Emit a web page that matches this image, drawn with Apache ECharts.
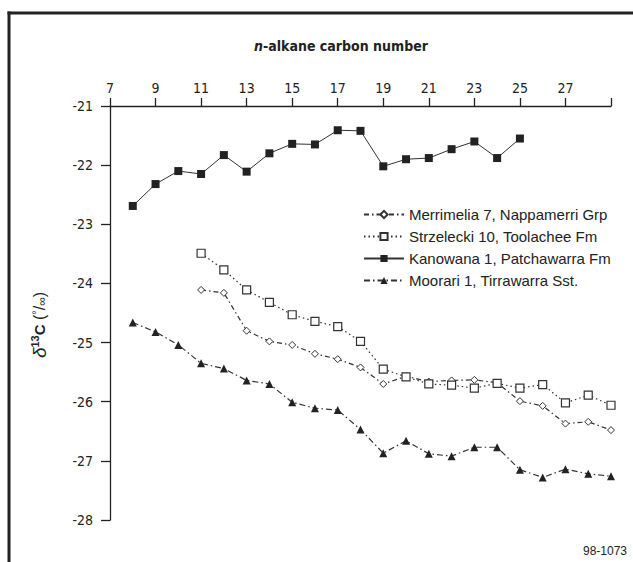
<!DOCTYPE html>
<html>
<head>
<meta charset="utf-8">
<script src="https://cdn.jsdelivr.net/npm/echarts@6/dist/echarts.min.js"></script>
<style>
  html, body { margin: 0; padding: 0; background: #fff; }
  #chart { width: 633px; height: 562px; }
</style>
</head>
<body>
<div id="chart"></div>
<script>
// n-alkane carbon numbers along the top axis (every other one labelled)
const carbonCategories = ['7','8','9','10','11','12','13','14','15','16','17','18',
  '19','20','21','22','23','24','25','26','27','28','29'];
const yTicks = [-28, -27, -26, -25, -24, -23, -22, -21];

// Merrimelia 7, Nappamerri Grp
const merrimeliaC = [11,12,13,14,15,16,17,18,19,20,21,22,23,24,25,26,27,28,29];
const merrimeliaD13C = [-24.11,-24.16,-24.80,-24.98,-25.04,-25.19,-25.28,-25.42,-25.70,-25.57,
  -25.66,-25.64,-25.63,-25.68,-25.99,-26.07,-26.37,-26.34,-26.48];

// Strzelecki 10, Toolachee Fm
const strzeleckiC = [11,12,13,14,15,16,17,18,19,20,21,22,23,24,25,26,27,28,29];
const strzeleckiD13C = [-23.49,-23.77,-24.11,-24.32,-24.53,-24.64,-24.73,-24.98,-25.45,-25.58,
  -25.70,-25.72,-25.77,-25.69,-25.77,-25.71,-26.02,-25.89,-26.06];

// Kanowana 1, Patchawarra Fm
const kanowanaC = [8,9,10,11,12,13,14,15,16,17,18,19,20,21,22,23,24,25];
const kanowanaD13C = [-22.69,-22.32,-22.10,-22.15,-21.83,-22.11,-21.80,-21.64,-21.65,-21.41,
  -21.42,-22.02,-21.90,-21.88,-21.73,-21.60,-21.88,-21.55];

// Moorari 1, Tirrawarra Sst.
const moorariC = [8,9,10,11,12,13,14,15,16,17,18,19,20,21,22,23,24,25,26,27,28,29];
const moorariD13C = [-24.66,-24.82,-25.04,-25.35,-25.44,-25.64,-25.70,-26.01,-26.11,-26.14,
  -26.47,-26.87,-26.66,-26.88,-26.92,-26.77,-26.77,-27.15,-27.28,-27.14,-27.22,-27.26];

const seriesNames = [
  'Merrimelia 7, Nappamerri Grp',
  'Strzelecki 10, Toolachee Fm',
  'Kanowana 1, Patchawarra Fm',
  'Moorari 1, Tirrawarra Sst.'
];

const INK = '#222';
const narrow = "'Liberation Sans Narrow', 'DejaVu Sans Condensed', 'Liberation Sans', sans-serif";
const regular = "'Liberation Sans', Arial, sans-serif";

function pairs(cs, vs) {
  return cs.map((c, i) => [String(c), vs[i]]);
}

const chart = echarts.init(document.getElementById('chart'), null, { renderer: 'svg' });

chart.setOption({
  animation: false,
  backgroundColor: '#fff',
  grid: { left: 110, top: 106, right: 22, bottom: 42, containLabel: false },
  xAxis: {
    type: 'category',
    position: 'top',
    data: carbonCategories,
    boundaryGap: false,
    axisLine: { show: true, onZero: false, lineStyle: { color: INK, width: 1.3 } },
    axisTick: { show: true, interval: 1, length: 8, lineStyle: { color: INK, width: 1.3 } },
    axisLabel: {
      interval: 1, margin: 11, fontSize: 14, color: INK, fontFamily: narrow,
      formatter: v => (v === '29' ? '' : v)
    },
    splitLine: { show: false }
  },
  yAxis: {
    type: 'value',
    min: yTicks[0],
    max: yTicks[yTicks.length - 1],
    interval: 1,
    axisLine: { show: true, onZero: false, lineStyle: { color: INK, width: 1.3 } },
    axisTick: { show: true, length: 9, lineStyle: { color: INK, width: 1.3 } },
    axisLabel: { margin: 17, fontSize: 14, color: INK, fontFamily: narrow },
    splitLine: { show: false }
  },
  legend: {
    orient: 'vertical',
    left: 358,
    top: 202,
    itemWidth: 40,
    itemHeight: 9,
    itemGap: 7,
    data: seriesNames,
    textStyle: { fontSize: 15, color: INK, fontFamily: regular }
  },
  series: [
    {
      name: seriesNames[0],
      type: 'line',
      data: pairs(merrimeliaC, merrimeliaD13C),
      symbol: 'diamond',
      symbolSize: [7, 7],
      showAllSymbol: true,
      lineStyle: { color: '#333', width: 1.2, type: [5, 3, 1.5, 3] },
      itemStyle: { color: '#fff', borderColor: '#333', borderWidth: 1 },
      z: 3
    },
    {
      name: seriesNames[1],
      type: 'line',
      data: pairs(strzeleckiC, strzeleckiD13C),
      symbol: 'rect',
      symbolSize: 8,
      showAllSymbol: true,
      lineStyle: { color: '#333', width: 1.2, type: [1.5, 3] },
      itemStyle: { color: '#fff', borderColor: '#333', borderWidth: 1.2 },
      z: 4
    },
    {
      name: seriesNames[2],
      type: 'line',
      data: pairs(kanowanaC, kanowanaD13C),
      symbol: 'rect',
      symbolSize: 8,
      showAllSymbol: true,
      lineStyle: { color: '#333', width: 1 },
      itemStyle: { color: INK, borderColor: INK, borderWidth: 0 },
      z: 5
    },
    {
      name: seriesNames[3],
      type: 'line',
      data: pairs(moorariC, moorariD13C),
      symbol: 'triangle',
      symbolSize: 8,
      showAllSymbol: true,
      lineStyle: { color: '#333', width: 1.2, type: [6, 3, 1.5, 3] },
      itemStyle: { color: INK, borderColor: INK, borderWidth: 0 },
      z: 5
    }
  ],
  graphic: [
    // frame along the left and top edges
    { type: 'line', shape: { x1: 9, y1: 11.5, x2: 9, y2: 562 }, style: { stroke: INK, lineWidth: 3 } },
    { type: 'line', shape: { x1: 7.5, y1: 13, x2: 633, y2: 13 }, style: { stroke: INK, lineWidth: 3 } },
    {
      type: 'text', x: 341, y: 46,
      style: {
        text: '{i|n}-alkane carbon number',
        align: 'center', verticalAlign: 'middle',
        fill: INK, fontSize: 14, fontWeight: 'bold', fontFamily: narrow,
        rich: {
          i: { fontStyle: 'italic', fontWeight: 'bold', fontSize: 14, fontFamily: narrow, fill: INK }
        }
      }
    },
    {
      type: 'text', x: 39, y: 325, rotation: Math.PI / 2,
      style: {
        text: '{d|δ}{s|13}{c|C}{n| (}{o|°}{n|/}{u|∞}{n|)}',
        align: 'center', verticalAlign: 'middle',
        fill: INK, fontSize: 17, fontFamily: regular,
        rich: {
          d: { fontStyle: 'italic', fontSize: 19, fontFamily: regular, fill: INK },
          s: { fontSize: 11, fontWeight: 'bold', fontFamily: regular, fill: INK, padding: [0, 0, 8, 0] },
          c: { fontSize: 15, fontWeight: 'bold', fontFamily: regular, fill: INK },
          n: { fontSize: 16, fontFamily: regular, fill: INK },
          o: { fontSize: 11, fontFamily: regular, fill: INK, padding: [0, 0, 7, 0] },
          u: { fontSize: 12, fontFamily: regular, fill: INK, padding: [6, 0, 0, 0] }
        }
      }
    },
    {
      type: 'text', x: 627, y: 551,
      style: {
        text: '98-1073', align: 'right', verticalAlign: 'middle',
        fill: INK, fontSize: 12, fontFamily: regular
      }
    }
  ]
});
</script>
</body>
</html>
